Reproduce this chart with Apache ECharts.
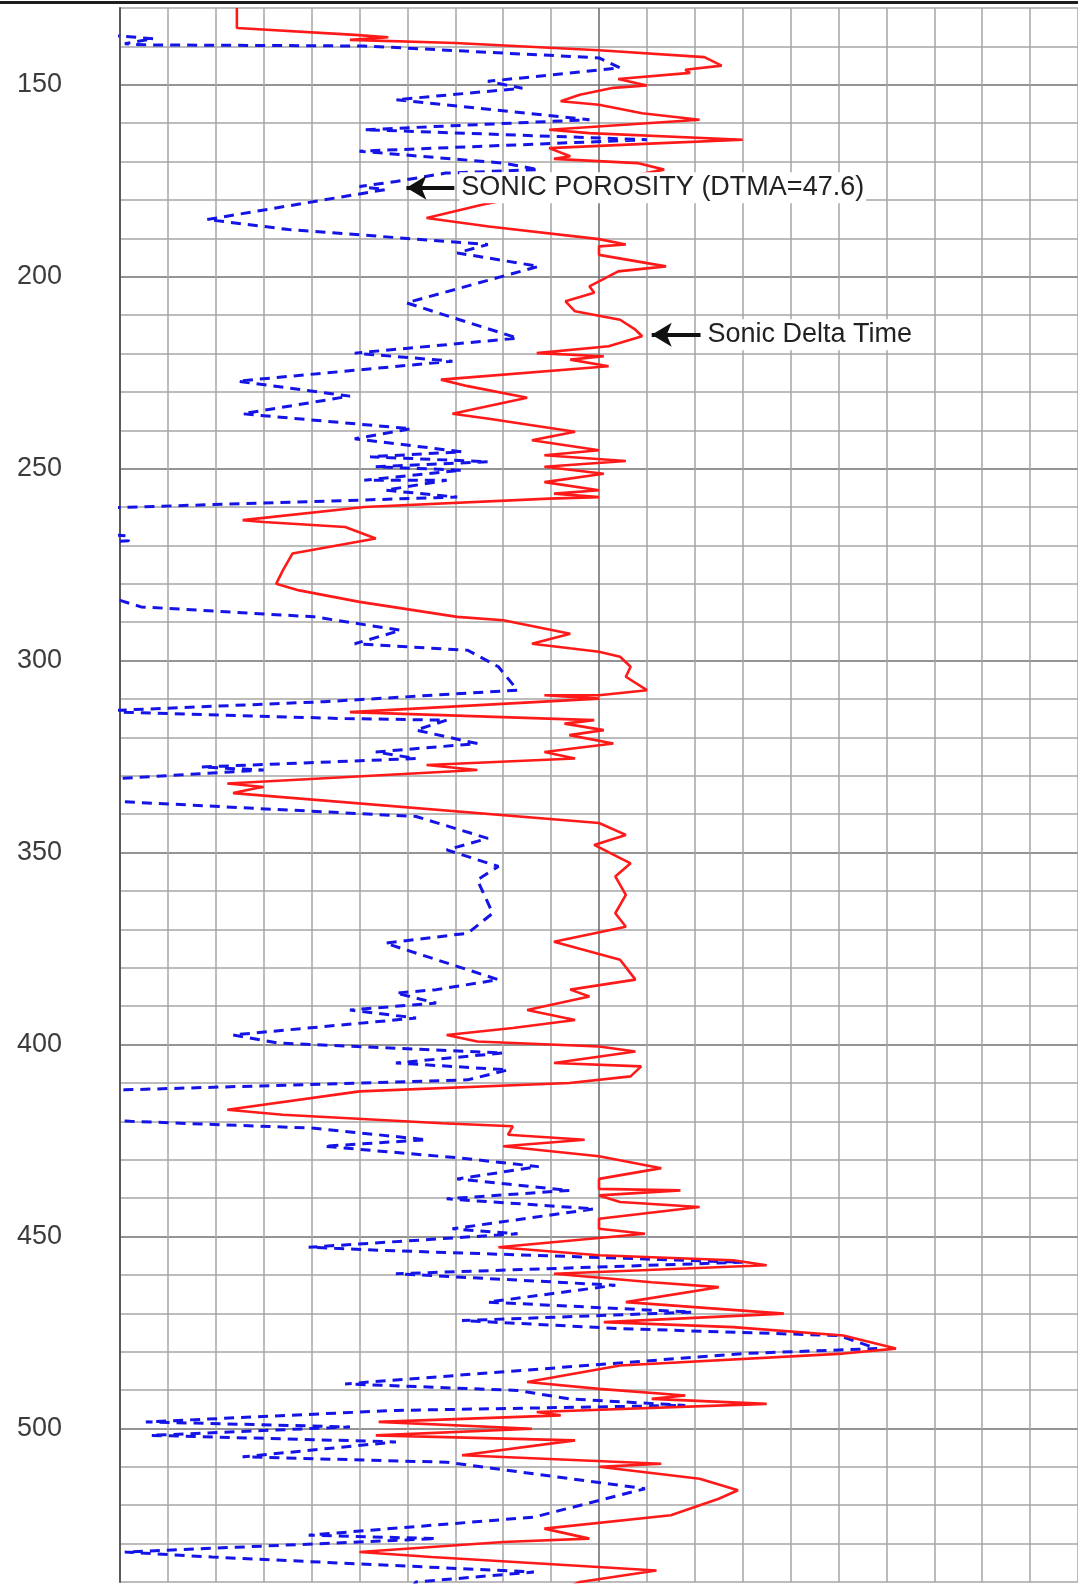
<!DOCTYPE html>
<html>
<head>
<meta charset="utf-8">
<title>Sonic log</title>
<script src="https://cdn.jsdelivr.net/npm/echarts@6/dist/echarts.min.js"></script>
<style>
  html, body { margin: 0; padding: 0; background: #ffffff; }
  #chart { width: 1078px; height: 1585px; }
</style>
</head>
<body>
<div id="chart"></div>
<script>
// Depth track (ft) and readings on the common 0-100 horizontal scale.
const dtDepth = [130.0,135.2,137.0,137.6,138.3,139.1,141.0,142.8,145.0,146.1,146.9,148.5,150.2,150.8,152.6,154.3,155.2,157.4,159.1,161.7,162.6,164.3,165.2,166.5,168.6,169.3,170.4,172.1,181.2,184.7,186.9,190.2,191.6,192.1,194.3,197.3,198.6,202.5,204.2,206.4,209.0,211.2,213.8,215.5,218.1,219.9,220.7,221.6,223.3,226.8,228.5,231.5,235.7,237.0,240.4,242.6,245.2,246.5,248.0,249.5,251.3,253.5,255.6,256.5,257.4,257.8,260.0,263.4,263.9,265.2,268.2,272.1,276.5,280.0,281.7,284.7,288.6,289.5,293.0,295.6,297.7,299.0,301.6,304.2,307.7,309.0,309.0,309.9,313.4,315.5,316.4,318.1,319.4,321.6,323.8,325.5,327.2,328.5,332.0,332.9,333.2,334.5,342.3,345.4,348.0,352.8,356.2,361.0,365.8,369.3,373.2,377.9,383.1,385.7,387.5,391.0,393.6,395.7,397.5,399.2,400.5,401.8,404.8,405.7,408.3,410.0,412.2,417.0,418.3,420.5,421.3,423.5,424.8,426.5,429.1,432.2,435.0,437.6,438.0,439.3,441.0,442.3,445.4,448.0,449.3,452.8,454.9,456.2,457.5,459.7,461.9,463.2,467.1,470.1,472.3,473.6,475.8,479.2,480.5,483.6,487.9,489.7,491.4,492.3,493.6,495.7,496.6,498.3,500.1,501.8,503.1,507.0,509.2,510.0,513.1,516.1,518.3,522.6,526.1,528.7,529.6,532.2,533.5,537.0,540.0,543.0];
const dtValue = [12.2,12.2,24.5,28.0,24.0,35.0,50.0,61.0,62.8,59.0,59.5,52.0,55.0,51.5,48.0,46.0,50.0,54.5,60.5,44.8,49.0,65.0,56.5,44.8,47.0,45.3,54.0,56.8,37.9,32.0,38.5,50.0,52.8,50.0,50.0,57.0,52.0,49.0,49.5,46.5,47.5,52.2,53.8,54.5,51.0,43.5,50.5,47.0,51.0,33.5,36.3,42.5,34.7,38.5,47.5,43.0,50.0,44.3,52.8,44.3,50.5,44.3,50.0,45.3,50.0,44.8,25.5,12.8,15.0,23.5,26.7,18.0,17.0,16.3,18.7,25.0,35.2,40.0,47.0,43.0,50.0,52.2,53.3,52.8,55.0,50.0,44.3,50.0,24.0,49.5,46.4,50.5,46.9,51.5,44.3,47.5,32.0,37.3,11.2,15.0,14.3,11.8,50.0,52.8,49.5,53.3,51.7,52.8,51.7,52.8,45.3,52.2,53.8,47.0,49.0,42.5,47.5,41.0,34.1,37.3,50.0,53.8,45.3,54.4,53.3,46.9,25.0,11.2,17.0,33.6,41.0,40.5,48.5,40.0,50.0,56.5,50.0,50.0,58.5,50.0,52.2,60.5,50.0,50.0,54.8,39.5,50.0,64.0,67.5,45.3,55.5,62.5,52.8,69.3,50.5,64.0,75.5,81.0,75.5,52.2,42.5,50.0,59.0,55.5,67.5,43.5,46.0,27.0,43.0,26.7,47.5,35.7,56.5,50.0,60.5,64.5,62.5,57.5,44.3,49.0,40.0,25.0,32.5,56.0,48.0,45.0];

const phiDepth = [137.0,137.3,138.0,139.3,139.6,139.9,143.0,145.6,149.1,150.9,153.9,159.1,161.7,164.3,167.3,170.4,172.1,173.0,175.2,176.5,177.3,185.1,187.7,191.6,193.8,197.3,206.8,216.0,219.9,222.0,227.2,231.1,235.7,239.6,242.2,245.6,246.9,248.2,249.5,250.4,253.0,253.0,255.6,257.4,260.1,262.0,265.0,267.0,267.5,268.8,269.3,275.0,283.0,284.3,286.0,288.6,292.1,295.6,297.3,301.6,307.7,310.7,312.9,313.2,315.1,315.5,318.1,321.6,323.8,325.5,327.7,328.5,330.7,333.0,336.2,336.7,340.6,346.3,349.3,353.6,357.1,365.8,371.0,373.6,383.1,385.7,386.6,389.2,391.0,393.1,397.5,399.6,402.2,404.8,406.6,409.2,411.8,413.5,418.0,420.0,421.8,424.8,426.5,429.6,431.8,435.0,438.0,440.2,442.8,448.0,449.3,452.8,453.6,456.7,459.7,462.7,467.1,469.7,471.9,474.0,475.8,479.2,480.5,488.4,490.1,492.3,494.0,495.3,498.3,499.6,501.8,503.5,507.4,508.8,515.7,523.1,527.8,528.7,532.2,533.5,537.4,540.0,543.0];
const phiValue = [-10.0,0.0,3.5,0.5,2.5,25.5,50.0,52.2,38.4,42.0,28.8,49.0,25.5,55.0,25.0,40.0,43.7,34.0,28.8,25.0,27.7,9.1,17.6,38.4,35.2,43.7,29.9,41.5,24.5,34.7,12.3,24.0,12.8,30.4,24.5,35.7,26.1,38.4,26.7,35.7,25.5,34.1,27.7,35.2,0.0,-15.0,-25.0,-3.0,0.9,0.9,-3.0,-25.0,-10.0,0.0,2.2,20.3,29.3,24.5,36.3,39.5,41.5,21.3,0.0,-3.0,23.5,34.1,30.9,37.3,26.7,30.9,8.5,15.0,0.0,-15.0,-3.0,0.0,30.9,38.4,34.1,39.5,37.3,38.9,36.3,27.7,39.5,33.0,28.8,33.0,24.0,30.9,11.8,16.5,40.0,28.8,40.5,36.3,0.5,-15.0,-15.0,1.1,20.3,32.0,21.3,35.7,43.7,35.2,46.9,34.1,49.5,34.7,41.5,19.7,27.2,65.0,28.8,51.7,38.4,59.7,35.7,52.2,75.0,79.0,65.0,23.5,41.5,46.9,59.0,28.8,2.7,24.0,3.2,28.8,12.8,34.1,54.8,43.2,19.7,33.0,0.5,9.6,43.2,30.9,30.0];

// Depth labels printed on the left track
const depthLabels = [150, 200, 250, 300, 350, 400, 450, 500];

// Callout anchors: [value, depth] of the arrow tip and tail
const phiCalloutTip = [29.9, 176.8];
const phiCalloutTail = [34.9, 176.8];
const dtCalloutTip = [55.5, 215.1];
const dtCalloutTail = [60.6, 215.1];

const X_MIN = 0, X_MAX = 100, X_STEP = 5;
const D_MIN = 130, D_MAX = 540, D_STEP = 10;

function zip(depths, values) {
  return depths.map(function (d, i) { return [values[i], d]; });
}

// split line shades: heavier rule at the track centre and every 50 ft
const xLineColors = [];
for (let v = X_MIN; v <= X_MAX; v += X_STEP) xLineColors.push(v === 50 ? '#6a6a6a' : '#a4a4a4');
const yLineColors = [];
for (let d = D_MIN; d <= D_MAX; d += D_STEP) yLineColors.push(d % 50 === 0 ? '#707070' : '#a6a6a6');

const FONT = '"Liberation Sans", Arial, sans-serif';

function callout(tip, tail, text) {
  return {
    silent: true,
    animation: false,
    symbol: ['arrow', 'none'],
    symbolSize: [18, 20],
    lineStyle: { color: '#111111', width: 4, type: 'solid' },
    label: {
      show: true,
      position: 'end',
      distance: 5,
      formatter: text,
      fontFamily: FONT,
      fontSize: 27,
      color: '#222222',
      backgroundColor: '#ffffff',
      padding: [2, 2, 2, 2]
    },
    emphasis: { disabled: true },
    data: [[{ coord: tip }, { coord: tail }]]
  };
}

const chart = echarts.init(document.getElementById('chart'), null, { renderer: 'canvas' });
chart.setOption({
  animation: false,
  backgroundColor: '#ffffff',
  grid: { left: 120, right: 0, top: 8, bottom: 3, containLabel: false },
  xAxis: {
    type: 'value',
    min: X_MIN, max: X_MAX, interval: X_STEP,
    position: 'top',
    axisLine: { show: false },
    axisTick: { show: false },
    axisLabel: { show: false },
    splitLine: { show: true, lineStyle: { color: xLineColors, width: 1.5 } }
  },
  yAxis: {
    type: 'value',
    inverse: true,
    min: D_MIN, max: D_MAX, interval: D_STEP,
    axisLine: { show: true, onZero: false, lineStyle: { color: '#5a5a5a', width: 2 } },
    axisTick: { show: false },
    axisLabel: {
      show: true,
      margin: 58,
      fontFamily: FONT,
      fontSize: 27,
      color: '#3c3c3c',
      formatter: function (v) { return depthLabels.indexOf(v) >= 0 ? String(v) : ''; }
    },
    splitLine: { show: true, lineStyle: { color: yLineColors, width: 1.5 } }
  },
  series: [
    {
      name: 'Sonic Delta Time',
      type: 'line',
      data: zip(dtDepth, dtValue),
      showSymbol: false,
      symbol: 'none',
      clip: true,
      z: 3,
      lineStyle: { color: '#ff1a1a', width: 2.6 },
      markLine: callout(dtCalloutTip, dtCalloutTail, 'Sonic Delta Time')
    },
    {
      name: 'SONIC POROSITY (DTMA=47.6)',
      type: 'line',
      data: zip(phiDepth, phiValue),
      showSymbol: false,
      symbol: 'none',
      clip: true,
      z: 2,
      lineStyle: { color: '#1414e6', width: 3, type: [10, 7] },
      markLine: callout(phiCalloutTip, phiCalloutTail, 'SONIC POROSITY (DTMA=47.6)')
    }
  ],
  graphic: [
    { type: 'rect', left: 0, top: 1, shape: { width: 1078, height: 3 }, style: { fill: '#1e1e1e' }, silent: true }
  ]
});
</script>
</body>
</html>
